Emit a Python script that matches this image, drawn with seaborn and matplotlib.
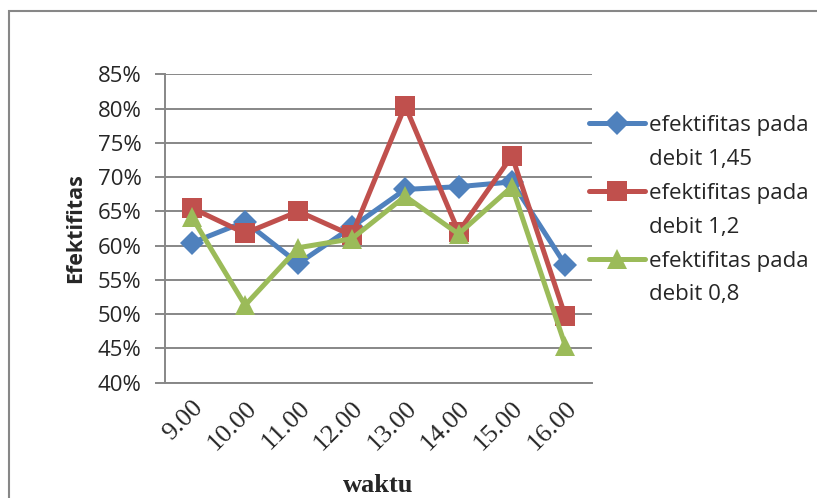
import pandas as pd
import seaborn as sns
import matplotlib.pyplot as plt
from matplotlib.lines import Line2D
from matplotlib.patches import Rectangle

# data
waktu = ["9.00", "10.00", "11.00", "12.00", "13.00", "14.00", "15.00", "16.00"]
debit_145 = [60.4, 63.5, 57.4, 62.7, 68.2, 68.6, 69.3, 57.2]
debit_12 = [65.5, 61.8, 65.0, 61.5, 80.4, 62.0, 73.1, 49.7]
debit_08 = [64.2, 51.3, 59.7, 61.0, 67.2, 61.7, 68.6, 45.4]
series = ["efektifitas pada debit 1,45", "efektifitas pada debit 1,2", "efektifitas pada debit 0,8"]

colors = ["#4F81BD", "#C0504D", "#9BBB59"]
markers = ["D", "s", "^"]
msizes = [12.5, 14, 15]

df = pd.DataFrame({
    "waktu": waktu * 3,
    "Efektifitas": debit_145 + debit_12 + debit_08,
    "seri": [series[0]] * 8 + [series[1]] * 8 + [series[2]] * 8,
})

sns.set_style("white")
grey = "#878787"
sans = "Open Sans"
serif = "Liberation Serif"

fig = plt.figure(figsize=(8.17, 4.98), dpi=100)
ax = fig.add_axes([165 / 817, 1 - 382.7 / 498, (592 - 165) / 817, (382.7 - 74.3) / 498])

# draw one series at a time so each gets its own marker size
for i, s in enumerate(series):
    sns.lineplot(data=df[df["seri"] == s], x="waktu", y="Efektifitas", color=colors[i],
                 marker=markers[i], markersize=msizes[i], markeredgewidth=0,
                 linewidth=3.6, ax=ax, legend=False, sort=False)

ax.set_xlim(-0.5, 7.5)
ax.set_ylim(40, 85)
ax.set_yticks(range(40, 90, 5))
ax.set_yticklabels([f"{v}%" for v in range(40, 90, 5)], fontsize=16, family=sans)
ax.yaxis.grid(True, color=grey, linewidth=1.4)
ax.set_axisbelow(True)

ax.set_xticks(range(8))
ax.set_xticks([x - 0.5 for x in range(9)], minor=True)
ax.set_xticklabels(waktu, rotation=45, ha="right", rotation_mode="anchor",
                   fontsize=19, family=serif)
ax.tick_params(axis="x", which="major", length=0, pad=10)
ax.tick_params(axis="x", which="minor", length=7, width=1.4, color=grey, direction="out")
ax.tick_params(axis="y", length=7, width=1.4, color=grey, direction="out", left=True, pad=10)

for side in ["top", "right"]:
    ax.spines[side].set_visible(False)
for side in ["left", "bottom"]:
    ax.spines[side].set_color(grey)
    ax.spines[side].set_linewidth(1.4)

ax.set_xlabel("waktu", fontsize=19, fontweight="bold", family=serif, labelpad=14)
ax.set_ylabel("Efektifitas", fontsize=15.5, fontweight="bold", family=sans, labelpad=8)

# legend with the label split over two rows, marker next to the first row
handles, labels = [], []
for i, s in enumerate(series):
    handles.append(Line2D([], [], color=colors[i], marker=markers[i], markersize=msizes[i],
                          markeredgewidth=0, linewidth=3.6))
    labels.append("efektifitas pada")
    handles.append(Line2D([], [], color="none"))
    labels.append(s.replace("efektifitas pada ", ""))
fig.legend(handles, labels, loc="upper left", bbox_to_anchor=(589 / 817, 1 - 115 / 498),
           frameon=False, prop={"family": sans, "size": 16}, handlelength=2.5,
           handletextpad=0.2, labelspacing=0.58, borderpad=0, borderaxespad=0)

# outer chart border
fig.patches.append(Rectangle((9 / 817, -0.1), 1.2, 1 - 11 / 498 + 0.1, transform=fig.transFigure,
                             fill=False, edgecolor=grey, linewidth=1.5))

fig.savefig("out.png", dpi=100)
